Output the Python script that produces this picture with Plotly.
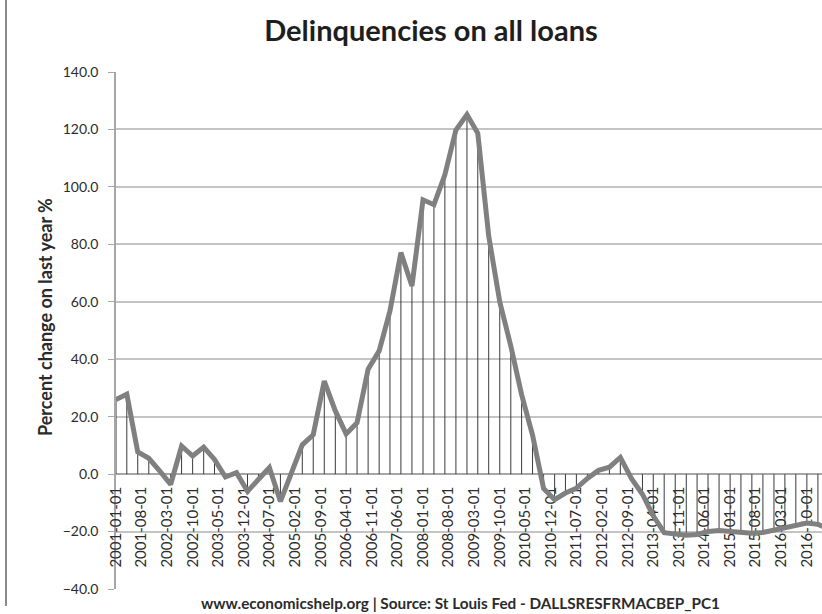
import pandas as pd
import plotly.graph_objects as go

# Quarterly observations, percent change on a year earlier
start_date = "2001-01-01"
n_quarters = 66
pct_change = [
    26.0, 27.8, 7.7, 5.5, 1.0, -3.6, 9.8, 6.3, 9.4, 5.1,
    -1.0, 0.5, -6.0, -1.8, 2.3, -9.5, 0.3, 10.2, 13.7, 32.4,
    22.0, 14.0, 17.9, 36.5, 42.9, 56.8, 77.1, 65.5, 95.5, 93.8,
    104.2, 119.8, 125.2, 118.7, 82.9, 60.0, 44.6, 27.7, 13.6, -5.0,
    -8.9, -6.6, -4.9, -1.5, 1.3, 2.4, 5.8, -1.5, -7.0, -14.5,
    -20.4, -20.8, -21.3, -21.0, -20.0, -19.6, -20.0, -20.5, -20.6, -20.3,
    -19.5, -18.5, -17.6, -17.0, -17.5, -19.0,
]
quarters = pd.date_range(start_date, periods=n_quarters, freq="QS")

# Category-axis labels, one every seven months
tick_labels = [
    "2001-01-01", "2001-08-01", "2002-03-01", "2002-10-01", "2003-05-01",
    "2003-12-01", "2004-07-01", "2005-02-01", "2005-09-01", "2006-04-01",
    "2006-11-01", "2007-06-01", "2008-01-01", "2008-08-01", "2009-03-01",
    "2009-10-01", "2010-05-01", "2010-12-01", "2011-07-01", "2012-02-01",
    "2012-09-01", "2013-04-01", "2013-11-01", "2014-06-01", "2015-01-01",
    "2015-08-01", "2016-03-01", "2016-10-01",
]
y_ticks = [-40, -20, 0, 20, 40, 60, 80, 100, 120, 140]

FONT = "Lato"
TEXT = "#2b2b2b"
GRID = "#c4c4c4"
AXIS = "#a6a6a6"

# Drop lines from zero to each observation
drop_x, drop_y = [], []
for d, v in zip(quarters, pct_change):
    drop_x += [d, d, None]
    drop_y += [0, v, None]

fig = go.Figure()
fig.add_trace(go.Scatter(
    x=drop_x, y=drop_y, mode="lines",
    line=dict(color="#3a3a3a", width=1),
    hoverinfo="skip", showlegend=False,
))
fig.add_trace(go.Scatter(
    x=quarters, y=pct_change, mode="lines",
    line=dict(color="#808080", width=5),
    showlegend=False,
))

y_min, y_max = -40, 140
zero_pos = (0 - y_min) / (y_max - y_min)

fig.update_layout(
    width=822, height=614,
    margin=dict(l=116, r=0, t=72, b=25),
    paper_bgcolor="white", plot_bgcolor="white",
    font=dict(family=FONT, color=TEXT),
    title=dict(
        text="<b>Delinquencies on all loans</b>",
        font=dict(family=FONT, size=29, color="#1e1e1e"),
        x=431 / 822, xref="container", xanchor="center",
        y=1 - 31 / 614, yref="container", yanchor="middle",
    ),
    xaxis=dict(
        type="date",
        range=["2001-01-01", "2017-02-04"],
        tickvals=pd.to_datetime(tick_labels),
        ticktext=tick_labels,
        tickangle=-90,
        tickfont=dict(family=FONT, size=15, color=TEXT),
        ticks="",
        ticklabelstandoff=6,
        showgrid=False,
        showline=True, linecolor=AXIS, linewidth=1.5,
        anchor="free", position=zero_pos,
        layer="below traces",
    ),
    yaxis=dict(
        range=[y_min, y_max],
        tickvals=y_ticks,
        tickformat=".1f",
        tickfont=dict(family=FONT, size=14, color=TEXT),
        ticks="outside", ticklen=6, tickcolor=AXIS,
        ticklabelstandoff=7,
        showgrid=True, gridcolor=GRID, gridwidth=2,
        zeroline=False,
        showline=True, linecolor=AXIS, linewidth=1.5,
        layer="below traces",
    ),
)

fig.add_annotation(
    text="<b>Percent change on last year %</b>",
    xref="paper", yref="paper",
    x=(45 - 116) / 706, y=(589 - 317) / 517,
    textangle=-90, showarrow=False,
    font=dict(family=FONT, size=18, color=TEXT),
    xanchor="center", yanchor="middle",
)
fig.add_annotation(
    text="<b>www.economicshelp.org | Source: St Louis Fed - DALLSRESFRMACBEP_PC1</b>",
    xref="paper", yref="paper",
    x=(460 - 116) / 706, y=(589 - 603) / 517,
    showarrow=False,
    font=dict(family=FONT, size=15.3, color=TEXT),
    xanchor="center", yanchor="middle",
)

# Page border on the left edge
fig.add_shape(
    type="line", xref="paper", yref="paper",
    x0=(6 - 116) / 706, x1=(6 - 116) / 706,
    y0=(589 - 0) / 517, y1=(589 - 606) / 517,
    line=dict(color="#8a8a8a", width=2),
)

fig.write_html("out.html")
